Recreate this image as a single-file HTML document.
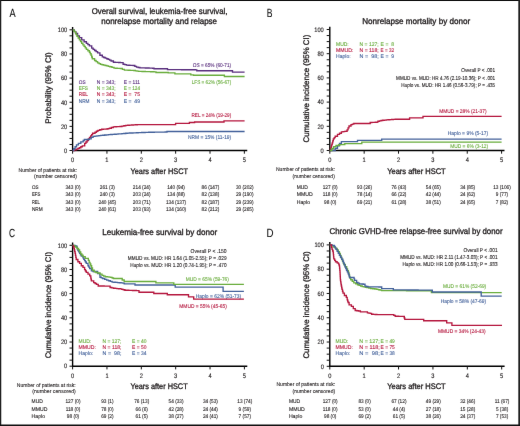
<!DOCTYPE html>
<html><head><meta charset="utf-8"><style>
html,body{margin:0;padding:0;background:#fff;}
svg{display:block;will-change:transform;}
text{font-family:"Liberation Sans",sans-serif;text-rendering:geometricPrecision;}
</style></head><body>
<svg width="520" height="426" viewBox="0 0 520 426">
<defs><filter id="bl" x="0" y="0" width="520" height="426" filterUnits="userSpaceOnUse" color-interpolation-filters="sRGB"><feConvolveMatrix order="3" kernelMatrix="0.0016 0.0371 0.0016 0.0371 0.8450 0.0371 0.0016 0.0371 0.0016" divisor="1" edgeMode="duplicate" preserveAlpha="false"/></filter></defs>
<g filter="url(#bl)">
<rect width="520" height="426" fill="#fff"/>
<text x="9.43" y="16.60" font-size="11.8" fill="#111" stroke="#111" stroke-width="0.10" text-anchor="start" textLength="6.14" lengthAdjust="spacingAndGlyphs">A</text>
<text x="91.76" y="13.80" font-size="8.4" fill="#231f20" stroke="#231f20" stroke-width="0.34" text-anchor="start" textLength="135.67" lengthAdjust="spacingAndGlyphs">Overall survival, leukemia-free survival,</text>
<text x="101.26" y="23.70" font-size="8.4" fill="#231f20" stroke="#231f20" stroke-width="0.34" text-anchor="start" textLength="115.77" lengthAdjust="spacingAndGlyphs">nonrelapse mortality and relapse</text>
<line x1="72.60" y1="27.00" x2="72.60" y2="151.10" stroke="#000" stroke-width="1.4"/>
<line x1="72.00" y1="150.50" x2="247.25" y2="150.50" stroke="#000" stroke-width="1.45"/>
<line x1="69.50" y1="150.50" x2="72.60" y2="150.50" stroke="#111" stroke-width="1.0"/>
<line x1="69.50" y1="144.47" x2="72.60" y2="144.47" stroke="#111" stroke-width="1.0"/>
<line x1="69.50" y1="138.43" x2="72.60" y2="138.43" stroke="#111" stroke-width="1.0"/>
<line x1="69.50" y1="132.40" x2="72.60" y2="132.40" stroke="#111" stroke-width="1.0"/>
<line x1="69.50" y1="126.36" x2="72.60" y2="126.36" stroke="#111" stroke-width="1.0"/>
<line x1="69.50" y1="120.33" x2="72.60" y2="120.33" stroke="#111" stroke-width="1.0"/>
<line x1="69.50" y1="114.29" x2="72.60" y2="114.29" stroke="#111" stroke-width="1.0"/>
<line x1="69.50" y1="108.25" x2="72.60" y2="108.25" stroke="#111" stroke-width="1.0"/>
<line x1="69.50" y1="102.22" x2="72.60" y2="102.22" stroke="#111" stroke-width="1.0"/>
<line x1="69.50" y1="96.19" x2="72.60" y2="96.19" stroke="#111" stroke-width="1.0"/>
<line x1="69.50" y1="90.15" x2="72.60" y2="90.15" stroke="#111" stroke-width="1.0"/>
<line x1="69.50" y1="84.11" x2="72.60" y2="84.11" stroke="#111" stroke-width="1.0"/>
<line x1="69.50" y1="78.08" x2="72.60" y2="78.08" stroke="#111" stroke-width="1.0"/>
<line x1="69.50" y1="72.05" x2="72.60" y2="72.05" stroke="#111" stroke-width="1.0"/>
<line x1="69.50" y1="66.01" x2="72.60" y2="66.01" stroke="#111" stroke-width="1.0"/>
<line x1="69.50" y1="59.97" x2="72.60" y2="59.97" stroke="#111" stroke-width="1.0"/>
<line x1="69.50" y1="53.94" x2="72.60" y2="53.94" stroke="#111" stroke-width="1.0"/>
<line x1="69.50" y1="47.90" x2="72.60" y2="47.90" stroke="#111" stroke-width="1.0"/>
<line x1="69.50" y1="41.87" x2="72.60" y2="41.87" stroke="#111" stroke-width="1.0"/>
<line x1="69.50" y1="35.83" x2="72.60" y2="35.83" stroke="#111" stroke-width="1.0"/>
<line x1="69.50" y1="29.80" x2="72.60" y2="29.80" stroke="#111" stroke-width="1.0"/>
<text x="67.26" y="152.79" font-size="6.4" fill="#231f20" stroke="#231f20" stroke-width="0.13" text-anchor="end" textLength="3.17" lengthAdjust="spacingAndGlyphs">0</text>
<text x="67.26" y="128.65" font-size="6.4" fill="#231f20" stroke="#231f20" stroke-width="0.13" text-anchor="end" textLength="6.34" lengthAdjust="spacingAndGlyphs">20</text>
<text x="67.26" y="104.51" font-size="6.4" fill="#231f20" stroke="#231f20" stroke-width="0.13" text-anchor="end" textLength="6.34" lengthAdjust="spacingAndGlyphs">40</text>
<text x="67.26" y="80.37" font-size="6.4" fill="#231f20" stroke="#231f20" stroke-width="0.13" text-anchor="end" textLength="6.34" lengthAdjust="spacingAndGlyphs">60</text>
<text x="67.26" y="56.23" font-size="6.4" fill="#231f20" stroke="#231f20" stroke-width="0.13" text-anchor="end" textLength="6.34" lengthAdjust="spacingAndGlyphs">80</text>
<text x="67.26" y="32.09" font-size="6.4" fill="#231f20" stroke="#231f20" stroke-width="0.13" text-anchor="end" textLength="9.50" lengthAdjust="spacingAndGlyphs">100</text>
<line x1="72.60" y1="150.50" x2="72.60" y2="153.70" stroke="#111" stroke-width="1.0"/>
<text x="72.60" y="162.29" font-size="6.4" fill="#231f20" stroke="#231f20" stroke-width="0.13" text-anchor="middle" textLength="3.17" lengthAdjust="spacingAndGlyphs">0</text>
<line x1="106.95" y1="150.50" x2="106.95" y2="153.70" stroke="#111" stroke-width="1.0"/>
<text x="106.95" y="162.29" font-size="6.4" fill="#231f20" stroke="#231f20" stroke-width="0.13" text-anchor="middle" textLength="3.17" lengthAdjust="spacingAndGlyphs">1</text>
<line x1="141.30" y1="150.50" x2="141.30" y2="153.70" stroke="#111" stroke-width="1.0"/>
<text x="141.30" y="162.29" font-size="6.4" fill="#231f20" stroke="#231f20" stroke-width="0.13" text-anchor="middle" textLength="3.17" lengthAdjust="spacingAndGlyphs">2</text>
<line x1="175.65" y1="150.50" x2="175.65" y2="153.70" stroke="#111" stroke-width="1.0"/>
<text x="175.65" y="162.29" font-size="6.4" fill="#231f20" stroke="#231f20" stroke-width="0.13" text-anchor="middle" textLength="3.17" lengthAdjust="spacingAndGlyphs">3</text>
<line x1="210.00" y1="150.50" x2="210.00" y2="153.70" stroke="#111" stroke-width="1.0"/>
<text x="210.00" y="162.29" font-size="6.4" fill="#231f20" stroke="#231f20" stroke-width="0.13" text-anchor="middle" textLength="3.17" lengthAdjust="spacingAndGlyphs">4</text>
<line x1="244.35" y1="150.50" x2="244.35" y2="153.70" stroke="#111" stroke-width="1.0"/>
<text x="244.35" y="162.29" font-size="6.4" fill="#231f20" stroke="#231f20" stroke-width="0.13" text-anchor="middle" textLength="3.17" lengthAdjust="spacingAndGlyphs">5</text>
<text transform="translate(51.20,88.10) rotate(-90)" x="0" y="0" font-size="8.1" fill="#231f20" stroke="#231f20" stroke-width="0.32" text-anchor="middle" textLength="71.45" lengthAdjust="spacingAndGlyphs">Probability (95% CI)</text>
<text x="130.48" y="173.80" font-size="8.1" fill="#231f20" stroke="#231f20" stroke-width="0.32" text-anchor="start" textLength="57.55" lengthAdjust="spacingAndGlyphs">Years after HSCT</text>
<text x="78.79" y="83.50" font-size="5.3" fill="#5a2f7e" stroke="#5a2f7e" stroke-width="0.11" text-anchor="start" textLength="6.82" lengthAdjust="spacingAndGlyphs">OS</text>
<text x="96.69" y="83.50" font-size="5.3" fill="#5a2f7e" stroke="#5a2f7e" stroke-width="0.11" text-anchor="start" textLength="19.02" lengthAdjust="spacingAndGlyphs">N = 343;</text>
<text x="123.79" y="83.50" font-size="5.3" fill="#5a2f7e" stroke="#5a2f7e" stroke-width="0.11" text-anchor="start" textLength="16.22" lengthAdjust="spacingAndGlyphs" xml:space="preserve">E = 111</text>
<text x="78.79" y="89.70" font-size="5.3" fill="#6aad3d" stroke="#6aad3d" stroke-width="0.11" text-anchor="start" textLength="9.17" lengthAdjust="spacingAndGlyphs">EFS</text>
<text x="96.69" y="89.70" font-size="5.3" fill="#6aad3d" stroke="#6aad3d" stroke-width="0.11" text-anchor="start" textLength="19.02" lengthAdjust="spacingAndGlyphs">N = 343;</text>
<text x="123.79" y="89.70" font-size="5.3" fill="#6aad3d" stroke="#6aad3d" stroke-width="0.11" text-anchor="start" textLength="16.22" lengthAdjust="spacingAndGlyphs" xml:space="preserve">E = 124</text>
<text x="78.79" y="96.30" font-size="5.3" fill="#b5173e" stroke="#b5173e" stroke-width="0.11" text-anchor="start" textLength="9.18" lengthAdjust="spacingAndGlyphs">REL</text>
<text x="96.69" y="96.30" font-size="5.3" fill="#b5173e" stroke="#b5173e" stroke-width="0.11" text-anchor="start" textLength="19.02" lengthAdjust="spacingAndGlyphs">N = 343;</text>
<text x="123.79" y="96.30" font-size="5.3" fill="#b5173e" stroke="#b5173e" stroke-width="0.11" text-anchor="start" textLength="16.22" lengthAdjust="spacingAndGlyphs" xml:space="preserve">E =  75</text>
<text x="78.79" y="102.60" font-size="5.3" fill="#44629b" stroke="#44629b" stroke-width="0.11" text-anchor="start" textLength="10.74" lengthAdjust="spacingAndGlyphs">NRM</text>
<text x="96.69" y="102.60" font-size="5.3" fill="#44629b" stroke="#44629b" stroke-width="0.11" text-anchor="start" textLength="19.02" lengthAdjust="spacingAndGlyphs">N = 343;</text>
<text x="123.79" y="102.60" font-size="5.3" fill="#44629b" stroke="#44629b" stroke-width="0.11" text-anchor="start" textLength="16.22" lengthAdjust="spacingAndGlyphs" xml:space="preserve">E =  49</text>
<text x="192.78" y="67.37" font-size="5.5" fill="#5a2f7e" stroke="#5a2f7e" stroke-width="0.11" text-anchor="start" textLength="38.44" lengthAdjust="spacingAndGlyphs">OS = 65% (60-71)</text>
<text x="191.78" y="84.27" font-size="5.5" fill="#6aad3d" stroke="#6aad3d" stroke-width="0.11" text-anchor="start" textLength="39.44" lengthAdjust="spacingAndGlyphs">LFS = 62% (56-67)</text>
<text x="191.48" y="116.97" font-size="5.5" fill="#b5173e" stroke="#b5173e" stroke-width="0.11" text-anchor="start" textLength="39.74" lengthAdjust="spacingAndGlyphs">REL = 24% (19-29)</text>
<text x="187.98" y="139.47" font-size="5.5" fill="#44629b" stroke="#44629b" stroke-width="0.11" text-anchor="start" textLength="43.24" lengthAdjust="spacingAndGlyphs">NRM = 15% (11-19)</text>
<polyline points="72.60,29.80 74.25,29.80 74.25,31.65 75.90,31.65 75.90,33.50 77.60,33.50 77.60,35.80 79.40,35.80 79.40,37.60 81.70,37.60 81.70,39.90 84.10,39.90 84.10,41.70 86.40,41.70 86.40,43.40 87.90,43.40 87.90,44.60 89.40,44.60 89.40,45.80 91.70,45.80 91.70,48.10 93.15,48.10 93.15,49.30 94.60,49.30 94.60,50.50 96.10,50.50 96.10,51.65 97.60,51.65 97.60,52.80 99.90,52.80 99.90,55.20 102.30,55.20 102.30,56.90 103.75,56.90 103.75,57.50 105.20,57.50 105.20,58.10 106.65,58.10 106.65,58.70 108.10,58.70 108.10,59.30 109.60,59.30 109.60,60.15 111.10,60.15 111.10,61.00 113.40,61.00 113.40,62.20 115.15,62.20 115.15,62.30 116.90,62.30 116.90,62.40 118.65,62.40 118.65,62.50 120.40,62.50 120.40,62.60 123.10,62.60 123.10,64.20 124.75,64.20 124.75,64.65 126.40,64.65 126.40,65.10 128.10,65.10 128.10,65.20 129.80,65.20 129.80,65.30 131.50,65.30 131.50,65.40 133.20,65.40 133.20,65.50 134.85,65.50 134.85,66.30 136.50,66.30 136.50,67.10 138.20,67.10 138.20,67.45 139.90,67.45 139.90,67.80 141.73,67.80 141.73,67.86 143.56,67.86 143.56,67.91 145.39,67.91 145.39,67.97 147.21,67.97 147.21,68.03 149.04,68.03 149.04,68.09 150.87,68.09 150.87,68.14 152.70,68.14 152.70,68.20 154.00,68.20 154.00,68.70 166.10,68.70 167.50,68.70 167.50,69.60 169.25,69.60 169.25,69.61 171.00,69.61 171.00,69.62 172.75,69.62 172.75,69.64 174.50,69.64 174.50,69.65 176.25,69.65 176.25,69.66 178.00,69.66 178.00,69.67 179.75,69.67 179.75,69.69 181.50,69.69 181.50,69.70 183.25,69.70 183.25,69.71 185.00,69.71 185.00,69.72 186.75,69.72 186.75,69.74 188.50,69.74 188.50,69.75 190.25,69.75 190.25,69.76 192.00,69.76 192.00,69.77 193.75,69.77 193.75,69.79 195.50,69.79 195.50,69.80 196.80,69.80 196.80,70.70 231.10,70.70 232.50,70.70 232.50,72.10 244.60,72.10" fill="none" stroke="#5a2f7e" stroke-width="1.35" stroke-linejoin="miter" stroke-linecap="butt"/>
<polyline points="72.60,29.80 73.95,29.80 73.95,31.35 75.30,31.35 75.30,32.90 76.15,32.90 76.15,34.65 77.00,34.65 77.00,36.40 78.20,36.40 78.20,38.15 79.40,38.15 79.40,39.90 80.55,39.90 80.55,41.65 81.70,41.65 81.70,43.40 82.90,43.40 82.90,44.90 84.10,44.90 84.10,46.40 85.25,46.40 85.25,47.85 86.40,47.85 86.40,49.30 87.90,49.30 87.90,50.75 89.40,50.75 89.40,52.20 90.25,52.20 90.25,53.70 91.10,53.70 91.10,55.20 91.70,55.20 91.70,56.95 92.30,56.95 92.30,58.70 94.60,58.70 94.60,60.50 96.10,60.50 96.10,61.65 97.60,61.65 97.60,62.80 99.05,62.80 99.05,63.55 100.50,63.55 100.50,64.30 102.07,64.30 102.07,64.70 103.63,64.70 103.63,65.10 105.20,65.10 105.20,65.50 106.77,65.50 106.77,65.90 108.33,65.90 108.33,66.30 109.90,66.30 109.90,66.70 111.95,66.70 111.95,67.40 114.00,67.40 114.00,68.10 115.60,68.10 115.60,68.20 117.20,68.20 117.20,68.30 118.80,68.30 118.80,68.40 120.40,68.40 120.40,68.50 122.40,68.50 122.40,69.30 124.40,69.30 124.40,70.10 126.28,70.10 126.28,70.18 128.16,70.18 128.16,70.26 130.04,70.26 130.04,70.34 131.92,70.34 131.92,70.42 133.80,70.42 133.80,70.50 135.40,70.50 135.40,70.80 137.00,70.80 137.00,71.10 138.60,71.10 138.60,71.40 140.31,71.40 140.31,71.44 142.02,71.44 142.02,71.49 143.73,71.49 143.73,71.53 145.44,71.53 145.44,71.58 147.16,71.58 147.16,71.62 148.87,71.62 148.87,71.67 150.58,71.67 150.58,71.71 152.29,71.71 152.29,71.76 154.00,71.76 154.00,71.80 156.00,71.80 156.00,72.50 166.10,72.50 168.20,72.50 168.20,72.90 172.90,72.90 174.90,72.90 174.90,73.80 189.40,73.80 190.80,73.80 190.80,74.80 193.50,74.80 193.50,75.20 223.10,75.20 224.40,75.20 224.40,76.50 244.60,76.50" fill="none" stroke="#6aad3d" stroke-width="1.35" stroke-linejoin="miter" stroke-linecap="butt"/>
<polyline points="72.60,150.50 74.55,150.50 74.55,149.80 76.50,149.80 76.50,149.10 77.95,149.10 77.95,148.40 79.40,148.40 79.40,147.70 80.85,147.70 80.85,146.75 82.30,146.75 82.30,145.80 84.70,145.80 84.70,143.40 85.90,143.40 85.90,141.95 87.10,141.95 87.10,140.50 88.30,140.50 88.30,138.80 89.50,138.80 89.50,137.35 90.70,137.35 90.70,135.90 91.65,135.90 91.65,134.55 92.60,134.55 92.60,133.20 95.00,133.20 95.00,132.20 96.45,132.20 96.45,131.25 97.90,131.25 97.90,130.30 99.80,130.30 99.80,129.75 101.70,129.75 101.70,129.20 103.30,129.20 103.30,129.13 104.90,129.13 104.90,129.07 106.50,129.07 106.50,129.00 107.95,129.00 107.95,128.60 109.40,128.60 109.40,128.20 111.35,128.20 111.35,127.50 113.30,127.50 113.30,126.80 114.97,126.80 114.97,126.72 116.65,126.72 116.65,126.65 118.33,126.65 118.33,126.58 120.00,126.58 120.00,126.50 121.93,126.50 121.93,126.13 123.87,126.13 123.87,125.77 125.80,125.77 125.80,125.40 127.72,125.40 127.72,125.27 129.63,125.27 129.63,125.13 131.55,125.13 131.55,125.00 133.47,125.00 133.47,124.87 135.38,124.87 135.38,124.73 137.30,124.73 137.30,124.60 175.60,124.60 175.60,123.40 189.40,123.40 189.40,122.50 194.60,122.50 194.60,122.00 224.00,122.00 224.00,120.80 244.60,120.80" fill="none" stroke="#b5173e" stroke-width="1.35" stroke-linejoin="miter" stroke-linecap="butt"/>
<polyline points="72.60,150.50 73.60,150.50 73.60,148.70 75.10,148.70 75.10,146.70 76.50,146.70 76.50,144.80 78.40,144.80 78.40,143.40 80.80,143.40 80.80,141.90 83.20,141.90 83.20,140.50 84.40,140.50 84.40,139.50 86.80,139.50 89.20,139.50 89.20,138.80 91.20,138.80 91.20,137.30 93.10,137.30 93.10,136.40 95.02,136.40 95.02,136.15 96.95,136.15 96.95,135.90 98.88,135.90 98.88,135.65 100.80,135.65 100.80,135.40 102.72,135.40 102.72,135.20 104.65,135.20 104.65,135.00 106.58,135.00 106.58,134.80 108.50,134.80 108.50,134.60 110.42,134.60 110.42,134.47 112.33,134.47 112.33,134.33 114.25,134.33 114.25,134.20 116.17,134.20 116.17,134.07 118.08,134.07 118.08,133.93 120.00,133.93 120.00,133.80 121.92,133.80 121.92,133.62 123.85,133.62 123.85,133.45 125.78,133.45 125.78,133.28 127.70,133.28 127.70,133.10 129.45,133.10 129.45,133.03 131.19,133.03 131.19,132.95 132.94,132.95 132.94,132.88 134.68,132.88 134.68,132.81 136.43,132.81 136.43,132.74 138.17,132.74 138.17,132.66 139.92,132.66 139.92,132.59 141.66,132.59 141.66,132.52 143.41,132.52 143.41,132.45 145.15,132.45 145.15,132.37 146.90,132.37 146.90,132.30 148.73,132.30 148.73,132.27 150.55,132.27 150.55,132.25 152.38,132.25 152.38,132.22 154.21,132.22 154.21,132.19 156.04,132.19 156.04,132.16 157.86,132.16 157.86,132.14 159.69,132.14 159.69,132.11 161.52,132.11 161.52,132.08 163.35,132.08 163.35,132.05 165.17,132.05 165.17,132.03 167.00,132.03 167.00,132.00 167.00,131.50 244.60,131.50" fill="none" stroke="#44629b" stroke-width="1.35" stroke-linejoin="miter" stroke-linecap="butt"/>
<text x="77.02" y="171.67" font-size="5.5" fill="#231f20" stroke="#231f20" stroke-width="0.11" text-anchor="end" textLength="58.44" lengthAdjust="spacingAndGlyphs">Number of patients at risk:</text>
<text x="77.02" y="177.97" font-size="5.5" fill="#231f20" stroke="#231f20" stroke-width="0.11" text-anchor="end" textLength="42.94" lengthAdjust="spacingAndGlyphs">(number censored)</text>
<text x="31.89" y="189.10" font-size="5.3" fill="#231f20" stroke="#231f20" stroke-width="0.11" text-anchor="start" textLength="6.52" lengthAdjust="spacingAndGlyphs">OS</text>
<text x="73.00" y="189.10" font-size="5.3" fill="#231f20" stroke="#231f20" stroke-width="0.11" text-anchor="middle" textLength="15.03" lengthAdjust="spacingAndGlyphs">343 (0)</text>
<text x="107.35" y="189.10" font-size="5.3" fill="#231f20" stroke="#231f20" stroke-width="0.11" text-anchor="middle" textLength="15.03" lengthAdjust="spacingAndGlyphs">261 (3)</text>
<text x="141.70" y="189.10" font-size="5.3" fill="#231f20" stroke="#231f20" stroke-width="0.11" text-anchor="middle" textLength="17.67" lengthAdjust="spacingAndGlyphs">214 (24)</text>
<text x="176.05" y="189.10" font-size="5.3" fill="#231f20" stroke="#231f20" stroke-width="0.11" text-anchor="middle" textLength="17.67" lengthAdjust="spacingAndGlyphs">140 (94)</text>
<text x="210.40" y="189.10" font-size="5.3" fill="#231f20" stroke="#231f20" stroke-width="0.11" text-anchor="middle" textLength="17.67" lengthAdjust="spacingAndGlyphs">86 (147)</text>
<text x="244.75" y="189.10" font-size="5.3" fill="#231f20" stroke="#231f20" stroke-width="0.11" text-anchor="middle" textLength="17.67" lengthAdjust="spacingAndGlyphs">30 (202)</text>
<text x="31.89" y="196.30" font-size="5.3" fill="#231f20" stroke="#231f20" stroke-width="0.11" text-anchor="start" textLength="8.42" lengthAdjust="spacingAndGlyphs">EFS</text>
<text x="73.00" y="196.30" font-size="5.3" fill="#231f20" stroke="#231f20" stroke-width="0.11" text-anchor="middle" textLength="15.03" lengthAdjust="spacingAndGlyphs">343 (0)</text>
<text x="107.35" y="196.30" font-size="5.3" fill="#231f20" stroke="#231f20" stroke-width="0.11" text-anchor="middle" textLength="15.03" lengthAdjust="spacingAndGlyphs">240 (3)</text>
<text x="141.70" y="196.30" font-size="5.3" fill="#231f20" stroke="#231f20" stroke-width="0.11" text-anchor="middle" textLength="17.67" lengthAdjust="spacingAndGlyphs">203 (24)</text>
<text x="176.05" y="196.30" font-size="5.3" fill="#231f20" stroke="#231f20" stroke-width="0.11" text-anchor="middle" textLength="17.67" lengthAdjust="spacingAndGlyphs">134 (88)</text>
<text x="210.40" y="196.30" font-size="5.3" fill="#231f20" stroke="#231f20" stroke-width="0.11" text-anchor="middle" textLength="17.67" lengthAdjust="spacingAndGlyphs">82 (138)</text>
<text x="244.75" y="196.30" font-size="5.3" fill="#231f20" stroke="#231f20" stroke-width="0.11" text-anchor="middle" textLength="17.67" lengthAdjust="spacingAndGlyphs">29 (190)</text>
<text x="31.89" y="203.50" font-size="5.3" fill="#231f20" stroke="#231f20" stroke-width="0.11" text-anchor="start" textLength="8.02" lengthAdjust="spacingAndGlyphs">REL</text>
<text x="73.00" y="203.50" font-size="5.3" fill="#231f20" stroke="#231f20" stroke-width="0.11" text-anchor="middle" textLength="15.03" lengthAdjust="spacingAndGlyphs">343 (0)</text>
<text x="107.35" y="203.50" font-size="5.3" fill="#231f20" stroke="#231f20" stroke-width="0.11" text-anchor="middle" textLength="17.67" lengthAdjust="spacingAndGlyphs">240 (45)</text>
<text x="141.70" y="203.50" font-size="5.3" fill="#231f20" stroke="#231f20" stroke-width="0.11" text-anchor="middle" textLength="17.67" lengthAdjust="spacingAndGlyphs">203 (71)</text>
<text x="176.05" y="203.50" font-size="5.3" fill="#231f20" stroke="#231f20" stroke-width="0.11" text-anchor="middle" textLength="20.30" lengthAdjust="spacingAndGlyphs">134 (137)</text>
<text x="210.40" y="203.50" font-size="5.3" fill="#231f20" stroke="#231f20" stroke-width="0.11" text-anchor="middle" textLength="17.67" lengthAdjust="spacingAndGlyphs">82 (187)</text>
<text x="244.75" y="203.50" font-size="5.3" fill="#231f20" stroke="#231f20" stroke-width="0.11" text-anchor="middle" textLength="17.67" lengthAdjust="spacingAndGlyphs">29 (239)</text>
<text x="31.89" y="210.60" font-size="5.3" fill="#231f20" stroke="#231f20" stroke-width="0.11" text-anchor="start" textLength="10.82" lengthAdjust="spacingAndGlyphs">NRM</text>
<text x="73.00" y="210.60" font-size="5.3" fill="#231f20" stroke="#231f20" stroke-width="0.11" text-anchor="middle" textLength="15.03" lengthAdjust="spacingAndGlyphs">343 (0)</text>
<text x="107.35" y="210.60" font-size="5.3" fill="#231f20" stroke="#231f20" stroke-width="0.11" text-anchor="middle" textLength="17.67" lengthAdjust="spacingAndGlyphs">240 (61)</text>
<text x="141.70" y="210.60" font-size="5.3" fill="#231f20" stroke="#231f20" stroke-width="0.11" text-anchor="middle" textLength="17.67" lengthAdjust="spacingAndGlyphs">203 (93)</text>
<text x="176.05" y="210.60" font-size="5.3" fill="#231f20" stroke="#231f20" stroke-width="0.11" text-anchor="middle" textLength="20.30" lengthAdjust="spacingAndGlyphs">134 (160)</text>
<text x="210.40" y="210.60" font-size="5.3" fill="#231f20" stroke="#231f20" stroke-width="0.11" text-anchor="middle" textLength="17.67" lengthAdjust="spacingAndGlyphs">82 (212)</text>
<text x="244.75" y="210.60" font-size="5.3" fill="#231f20" stroke="#231f20" stroke-width="0.11" text-anchor="middle" textLength="17.67" lengthAdjust="spacingAndGlyphs">29 (265)</text>
<text x="266.73" y="16.60" font-size="11.8" fill="#111" stroke="#111" stroke-width="0.10" text-anchor="start" textLength="5.74" lengthAdjust="spacingAndGlyphs">B</text>
<text x="362.26" y="24.30" font-size="8.4" fill="#231f20" stroke="#231f20" stroke-width="0.34" text-anchor="start" textLength="107.87" lengthAdjust="spacingAndGlyphs">Nonrelapse mortality by donor</text>
<line x1="329.80" y1="26.70" x2="329.80" y2="151.10" stroke="#000" stroke-width="1.4"/>
<line x1="329.20" y1="150.50" x2="504.50" y2="150.50" stroke="#000" stroke-width="1.45"/>
<line x1="326.70" y1="150.50" x2="329.80" y2="150.50" stroke="#111" stroke-width="1.0"/>
<line x1="326.70" y1="144.45" x2="329.80" y2="144.45" stroke="#111" stroke-width="1.0"/>
<line x1="326.70" y1="138.40" x2="329.80" y2="138.40" stroke="#111" stroke-width="1.0"/>
<line x1="326.70" y1="132.35" x2="329.80" y2="132.35" stroke="#111" stroke-width="1.0"/>
<line x1="326.70" y1="126.30" x2="329.80" y2="126.30" stroke="#111" stroke-width="1.0"/>
<line x1="326.70" y1="120.25" x2="329.80" y2="120.25" stroke="#111" stroke-width="1.0"/>
<line x1="326.70" y1="114.20" x2="329.80" y2="114.20" stroke="#111" stroke-width="1.0"/>
<line x1="326.70" y1="108.15" x2="329.80" y2="108.15" stroke="#111" stroke-width="1.0"/>
<line x1="326.70" y1="102.10" x2="329.80" y2="102.10" stroke="#111" stroke-width="1.0"/>
<line x1="326.70" y1="96.05" x2="329.80" y2="96.05" stroke="#111" stroke-width="1.0"/>
<line x1="326.70" y1="90.00" x2="329.80" y2="90.00" stroke="#111" stroke-width="1.0"/>
<line x1="326.70" y1="83.95" x2="329.80" y2="83.95" stroke="#111" stroke-width="1.0"/>
<line x1="326.70" y1="77.90" x2="329.80" y2="77.90" stroke="#111" stroke-width="1.0"/>
<line x1="326.70" y1="71.85" x2="329.80" y2="71.85" stroke="#111" stroke-width="1.0"/>
<line x1="326.70" y1="65.80" x2="329.80" y2="65.80" stroke="#111" stroke-width="1.0"/>
<line x1="326.70" y1="59.75" x2="329.80" y2="59.75" stroke="#111" stroke-width="1.0"/>
<line x1="326.70" y1="53.70" x2="329.80" y2="53.70" stroke="#111" stroke-width="1.0"/>
<line x1="326.70" y1="47.65" x2="329.80" y2="47.65" stroke="#111" stroke-width="1.0"/>
<line x1="326.70" y1="41.60" x2="329.80" y2="41.60" stroke="#111" stroke-width="1.0"/>
<line x1="326.70" y1="35.55" x2="329.80" y2="35.55" stroke="#111" stroke-width="1.0"/>
<line x1="326.70" y1="29.50" x2="329.80" y2="29.50" stroke="#111" stroke-width="1.0"/>
<text x="323.76" y="152.79" font-size="6.4" fill="#231f20" stroke="#231f20" stroke-width="0.13" text-anchor="end" textLength="3.17" lengthAdjust="spacingAndGlyphs">0</text>
<text x="323.76" y="128.59" font-size="6.4" fill="#231f20" stroke="#231f20" stroke-width="0.13" text-anchor="end" textLength="6.34" lengthAdjust="spacingAndGlyphs">20</text>
<text x="323.76" y="104.39" font-size="6.4" fill="#231f20" stroke="#231f20" stroke-width="0.13" text-anchor="end" textLength="6.34" lengthAdjust="spacingAndGlyphs">40</text>
<text x="323.76" y="80.19" font-size="6.4" fill="#231f20" stroke="#231f20" stroke-width="0.13" text-anchor="end" textLength="6.34" lengthAdjust="spacingAndGlyphs">60</text>
<text x="323.76" y="55.99" font-size="6.4" fill="#231f20" stroke="#231f20" stroke-width="0.13" text-anchor="end" textLength="6.34" lengthAdjust="spacingAndGlyphs">80</text>
<text x="323.76" y="31.79" font-size="6.4" fill="#231f20" stroke="#231f20" stroke-width="0.13" text-anchor="end" textLength="9.50" lengthAdjust="spacingAndGlyphs">100</text>
<line x1="329.80" y1="150.50" x2="329.80" y2="153.70" stroke="#111" stroke-width="1.0"/>
<text x="329.80" y="162.29" font-size="6.4" fill="#231f20" stroke="#231f20" stroke-width="0.13" text-anchor="middle" textLength="3.17" lengthAdjust="spacingAndGlyphs">0</text>
<line x1="364.16" y1="150.50" x2="364.16" y2="153.70" stroke="#111" stroke-width="1.0"/>
<text x="364.16" y="162.29" font-size="6.4" fill="#231f20" stroke="#231f20" stroke-width="0.13" text-anchor="middle" textLength="3.17" lengthAdjust="spacingAndGlyphs">1</text>
<line x1="398.52" y1="150.50" x2="398.52" y2="153.70" stroke="#111" stroke-width="1.0"/>
<text x="398.52" y="162.29" font-size="6.4" fill="#231f20" stroke="#231f20" stroke-width="0.13" text-anchor="middle" textLength="3.17" lengthAdjust="spacingAndGlyphs">2</text>
<line x1="432.88" y1="150.50" x2="432.88" y2="153.70" stroke="#111" stroke-width="1.0"/>
<text x="432.88" y="162.29" font-size="6.4" fill="#231f20" stroke="#231f20" stroke-width="0.13" text-anchor="middle" textLength="3.17" lengthAdjust="spacingAndGlyphs">3</text>
<line x1="467.24" y1="150.50" x2="467.24" y2="153.70" stroke="#111" stroke-width="1.0"/>
<text x="467.24" y="162.29" font-size="6.4" fill="#231f20" stroke="#231f20" stroke-width="0.13" text-anchor="middle" textLength="3.17" lengthAdjust="spacingAndGlyphs">4</text>
<line x1="501.60" y1="150.50" x2="501.60" y2="153.70" stroke="#111" stroke-width="1.0"/>
<text x="501.60" y="162.29" font-size="6.4" fill="#231f20" stroke="#231f20" stroke-width="0.13" text-anchor="middle" textLength="3.17" lengthAdjust="spacingAndGlyphs">5</text>
<text transform="translate(308.60,88.60) rotate(-90)" x="0" y="0" font-size="8.1" fill="#231f20" stroke="#231f20" stroke-width="0.32" text-anchor="middle" textLength="107.85" lengthAdjust="spacingAndGlyphs">Cumulative incidence (95% CI)</text>
<text x="387.18" y="173.50" font-size="8.1" fill="#231f20" stroke="#231f20" stroke-width="0.32" text-anchor="start" textLength="58.55" lengthAdjust="spacingAndGlyphs">Years after HSCT</text>
<text x="335.99" y="46.00" font-size="5.3" fill="#6aad3d" stroke="#6aad3d" stroke-width="0.11" text-anchor="start" textLength="12.72" lengthAdjust="spacingAndGlyphs">MUD:</text>
<text x="359.49" y="46.00" font-size="5.3" fill="#6aad3d" stroke="#6aad3d" stroke-width="0.11" text-anchor="start" textLength="19.22" lengthAdjust="spacingAndGlyphs" xml:space="preserve">N = 127;</text>
<text x="380.59" y="46.00" font-size="5.3" fill="#6aad3d" stroke="#6aad3d" stroke-width="0.11" text-anchor="start" textLength="13.42" lengthAdjust="spacingAndGlyphs" xml:space="preserve">E =  8</text>
<text x="335.99" y="52.20" font-size="5.3" fill="#b5173e" stroke="#b5173e" stroke-width="0.11" text-anchor="start" textLength="17.32" lengthAdjust="spacingAndGlyphs">MMUD:</text>
<text x="359.49" y="52.20" font-size="5.3" fill="#b5173e" stroke="#b5173e" stroke-width="0.11" text-anchor="start" textLength="19.22" lengthAdjust="spacingAndGlyphs" xml:space="preserve">N = 118;</text>
<text x="380.59" y="52.20" font-size="5.3" fill="#b5173e" stroke="#b5173e" stroke-width="0.11" text-anchor="start" textLength="13.42" lengthAdjust="spacingAndGlyphs" xml:space="preserve">E = 32</text>
<text x="335.99" y="58.00" font-size="5.3" fill="#44629b" stroke="#44629b" stroke-width="0.11" text-anchor="start" textLength="14.62" lengthAdjust="spacingAndGlyphs">Haplo:</text>
<text x="359.49" y="58.00" font-size="5.3" fill="#44629b" stroke="#44629b" stroke-width="0.11" text-anchor="start" textLength="19.22" lengthAdjust="spacingAndGlyphs" xml:space="preserve">N =  98;</text>
<text x="380.59" y="58.00" font-size="5.3" fill="#44629b" stroke="#44629b" stroke-width="0.11" text-anchor="start" textLength="13.42" lengthAdjust="spacingAndGlyphs" xml:space="preserve">E =  9</text>
<text x="495.12" y="71.90" font-size="5.6" fill="#231f20" stroke="#231f20" stroke-width="0.11" text-anchor="end" textLength="33.85" lengthAdjust="spacingAndGlyphs">Overall P &lt; .001</text>
<text x="495.12" y="79.60" font-size="5.6" fill="#231f20" stroke="#231f20" stroke-width="0.11" text-anchor="end" textLength="99.05" lengthAdjust="spacingAndGlyphs">MMUD vs. MUD: HR 4.76 (2.19-10.36); P &lt; .001</text>
<text x="495.12" y="87.40" font-size="5.6" fill="#231f20" stroke="#231f20" stroke-width="0.11" text-anchor="end" textLength="93.85" lengthAdjust="spacingAndGlyphs">Haplo vs. MUD: HR 1.46 (0.56-3.79); P = .435</text>
<text x="439.18" y="112.57" font-size="5.5" fill="#b5173e" stroke="#b5173e" stroke-width="0.11" text-anchor="start" textLength="47.44" lengthAdjust="spacingAndGlyphs">MMUD = 28% (21-37)</text>
<text x="447.78" y="134.97" font-size="5.5" fill="#44629b" stroke="#44629b" stroke-width="0.11" text-anchor="start" textLength="40.44" lengthAdjust="spacingAndGlyphs">Haplo = 9% (5-17)</text>
<text x="450.18" y="148.17" font-size="5.5" fill="#6aad3d" stroke="#6aad3d" stroke-width="0.11" text-anchor="start" textLength="38.04" lengthAdjust="spacingAndGlyphs">MUD = 6% (3-12)</text>
<polyline points="329.80,150.50 330.40,150.50 330.40,148.95 331.00,148.95 331.00,147.40 331.40,147.40 331.40,145.87 331.80,145.87 331.80,144.33 332.20,144.33 332.20,142.80 332.75,142.80 332.75,140.85 333.30,140.85 333.30,138.90 334.25,138.90 334.25,137.55 335.20,137.55 335.20,136.20 337.50,136.20 337.50,134.30 339.50,134.30 339.50,133.20 341.40,133.20 341.40,131.90 343.00,131.90 343.00,131.67 344.60,131.67 344.60,131.43 346.20,131.43 346.20,131.20 347.10,131.20 347.10,129.80 348.05,129.80 348.05,127.90 349.00,127.90 349.00,126.00 351.00,126.00 351.00,124.60 352.40,124.60 352.40,124.05 353.80,124.05 353.80,123.50 369.20,123.50 370.20,123.50 370.20,122.50 371.90,122.50 371.90,122.40 373.60,122.40 373.60,122.30 375.30,122.30 375.30,122.20 377.00,122.20 377.00,122.10 377.90,122.10 377.90,121.20 379.50,121.20 379.50,120.87 381.10,120.87 381.10,120.53 382.70,120.53 382.70,120.20 384.49,120.20 384.49,120.06 386.27,120.06 386.27,119.91 388.06,119.91 388.06,119.77 389.84,119.77 389.84,119.63 391.63,119.63 391.63,119.49 393.41,119.49 393.41,119.34 395.20,119.34 395.20,119.20 409.60,119.20 409.60,117.90 423.00,117.90 423.00,116.40 501.60,116.40" fill="none" stroke="#b5173e" stroke-width="1.35" stroke-linejoin="miter" stroke-linecap="butt"/>
<polyline points="329.80,150.50 333.70,150.50 335.20,150.50 335.20,148.20 337.50,148.20 337.50,145.80 339.50,145.80 339.50,143.50 341.40,143.50 341.40,141.60 356.80,141.60 357.50,141.60 357.50,140.30 380.80,140.30 381.70,140.30 381.70,139.10 501.60,139.10" fill="none" stroke="#44629b" stroke-width="1.35" stroke-linejoin="miter" stroke-linecap="butt"/>
<polyline points="329.80,150.50 331.80,150.50 331.80,148.50 333.70,148.50 333.70,146.60 336.00,146.60 336.00,145.50 338.70,145.50 338.70,144.70 340.37,144.70 340.37,144.63 342.03,144.63 342.03,144.57 343.70,144.57 343.70,144.50 344.80,144.50 344.80,143.60 359.80,143.60 361.80,143.60 361.80,142.10 501.60,142.10" fill="none" stroke="#6aad3d" stroke-width="1.35" stroke-linejoin="miter" stroke-linecap="butt"/>
<text x="334.82" y="171.47" font-size="5.5" fill="#231f20" stroke="#231f20" stroke-width="0.11" text-anchor="end" textLength="58.84" lengthAdjust="spacingAndGlyphs">Number of patients at risk:</text>
<text x="334.82" y="177.77" font-size="5.5" fill="#231f20" stroke="#231f20" stroke-width="0.11" text-anchor="end" textLength="42.24" lengthAdjust="spacingAndGlyphs">(number censored)</text>
<text x="296.69" y="188.90" font-size="5.3" fill="#231f20" stroke="#231f20" stroke-width="0.11" text-anchor="start" textLength="11.12" lengthAdjust="spacingAndGlyphs">MUD</text>
<text x="330.20" y="188.90" font-size="5.3" fill="#231f20" stroke="#231f20" stroke-width="0.11" text-anchor="middle" textLength="15.03" lengthAdjust="spacingAndGlyphs">127 (0)</text>
<text x="364.56" y="188.90" font-size="5.3" fill="#231f20" stroke="#231f20" stroke-width="0.11" text-anchor="middle" textLength="15.03" lengthAdjust="spacingAndGlyphs">93 (26)</text>
<text x="398.92" y="188.90" font-size="5.3" fill="#231f20" stroke="#231f20" stroke-width="0.11" text-anchor="middle" textLength="15.03" lengthAdjust="spacingAndGlyphs">76 (43)</text>
<text x="433.28" y="188.90" font-size="5.3" fill="#231f20" stroke="#231f20" stroke-width="0.11" text-anchor="middle" textLength="15.03" lengthAdjust="spacingAndGlyphs">54 (65)</text>
<text x="467.64" y="188.90" font-size="5.3" fill="#231f20" stroke="#231f20" stroke-width="0.11" text-anchor="middle" textLength="15.03" lengthAdjust="spacingAndGlyphs">34 (85)</text>
<text x="502.00" y="188.90" font-size="5.3" fill="#231f20" stroke="#231f20" stroke-width="0.11" text-anchor="middle" textLength="17.67" lengthAdjust="spacingAndGlyphs">13 (106)</text>
<text x="296.69" y="196.20" font-size="5.3" fill="#231f20" stroke="#231f20" stroke-width="0.11" text-anchor="start" textLength="15.92" lengthAdjust="spacingAndGlyphs">MMUD</text>
<text x="330.20" y="196.20" font-size="5.3" fill="#231f20" stroke="#231f20" stroke-width="0.11" text-anchor="middle" textLength="14.68" lengthAdjust="spacingAndGlyphs">118 (0)</text>
<text x="364.56" y="196.20" font-size="5.3" fill="#231f20" stroke="#231f20" stroke-width="0.11" text-anchor="middle" textLength="15.03" lengthAdjust="spacingAndGlyphs">78 (14)</text>
<text x="398.92" y="196.20" font-size="5.3" fill="#231f20" stroke="#231f20" stroke-width="0.11" text-anchor="middle" textLength="15.03" lengthAdjust="spacingAndGlyphs">66 (22)</text>
<text x="433.28" y="196.20" font-size="5.3" fill="#231f20" stroke="#231f20" stroke-width="0.11" text-anchor="middle" textLength="15.03" lengthAdjust="spacingAndGlyphs">42 (44)</text>
<text x="467.64" y="196.20" font-size="5.3" fill="#231f20" stroke="#231f20" stroke-width="0.11" text-anchor="middle" textLength="15.03" lengthAdjust="spacingAndGlyphs">24 (62)</text>
<text x="502.00" y="196.20" font-size="5.3" fill="#231f20" stroke="#231f20" stroke-width="0.11" text-anchor="middle" textLength="12.39" lengthAdjust="spacingAndGlyphs">9 (77)</text>
<text x="296.69" y="203.70" font-size="5.3" fill="#231f20" stroke="#231f20" stroke-width="0.11" text-anchor="start" textLength="13.42" lengthAdjust="spacingAndGlyphs">Haplo</text>
<text x="330.20" y="203.70" font-size="5.3" fill="#231f20" stroke="#231f20" stroke-width="0.11" text-anchor="middle" textLength="12.39" lengthAdjust="spacingAndGlyphs">98 (0)</text>
<text x="364.56" y="203.70" font-size="5.3" fill="#231f20" stroke="#231f20" stroke-width="0.11" text-anchor="middle" textLength="15.03" lengthAdjust="spacingAndGlyphs">69 (21)</text>
<text x="398.92" y="203.70" font-size="5.3" fill="#231f20" stroke="#231f20" stroke-width="0.11" text-anchor="middle" textLength="15.03" lengthAdjust="spacingAndGlyphs">61 (28)</text>
<text x="433.28" y="203.70" font-size="5.3" fill="#231f20" stroke="#231f20" stroke-width="0.11" text-anchor="middle" textLength="15.03" lengthAdjust="spacingAndGlyphs">38 (51)</text>
<text x="467.64" y="203.70" font-size="5.3" fill="#231f20" stroke="#231f20" stroke-width="0.11" text-anchor="middle" textLength="15.03" lengthAdjust="spacingAndGlyphs">24 (65)</text>
<text x="502.00" y="203.70" font-size="5.3" fill="#231f20" stroke="#231f20" stroke-width="0.11" text-anchor="middle" textLength="12.39" lengthAdjust="spacingAndGlyphs">7 (82)</text>
<text x="9.03" y="237.30" font-size="11.8" fill="#111" stroke="#111" stroke-width="0.10" text-anchor="start" textLength="6.04" lengthAdjust="spacingAndGlyphs">C</text>
<text x="102.16" y="234.50" font-size="8.4" fill="#231f20" stroke="#231f20" stroke-width="0.34" text-anchor="start" textLength="114.97" lengthAdjust="spacingAndGlyphs">Leukemia-free survival by donor</text>
<line x1="72.60" y1="242.50" x2="72.60" y2="366.80" stroke="#000" stroke-width="1.4"/>
<line x1="72.00" y1="366.20" x2="247.30" y2="366.20" stroke="#000" stroke-width="1.45"/>
<line x1="69.50" y1="366.20" x2="72.60" y2="366.20" stroke="#111" stroke-width="1.0"/>
<line x1="69.50" y1="360.15" x2="72.60" y2="360.15" stroke="#111" stroke-width="1.0"/>
<line x1="69.50" y1="354.11" x2="72.60" y2="354.11" stroke="#111" stroke-width="1.0"/>
<line x1="69.50" y1="348.06" x2="72.60" y2="348.06" stroke="#111" stroke-width="1.0"/>
<line x1="69.50" y1="342.02" x2="72.60" y2="342.02" stroke="#111" stroke-width="1.0"/>
<line x1="69.50" y1="335.97" x2="72.60" y2="335.97" stroke="#111" stroke-width="1.0"/>
<line x1="69.50" y1="329.93" x2="72.60" y2="329.93" stroke="#111" stroke-width="1.0"/>
<line x1="69.50" y1="323.88" x2="72.60" y2="323.88" stroke="#111" stroke-width="1.0"/>
<line x1="69.50" y1="317.84" x2="72.60" y2="317.84" stroke="#111" stroke-width="1.0"/>
<line x1="69.50" y1="311.80" x2="72.60" y2="311.80" stroke="#111" stroke-width="1.0"/>
<line x1="69.50" y1="305.75" x2="72.60" y2="305.75" stroke="#111" stroke-width="1.0"/>
<line x1="69.50" y1="299.70" x2="72.60" y2="299.70" stroke="#111" stroke-width="1.0"/>
<line x1="69.50" y1="293.66" x2="72.60" y2="293.66" stroke="#111" stroke-width="1.0"/>
<line x1="69.50" y1="287.62" x2="72.60" y2="287.62" stroke="#111" stroke-width="1.0"/>
<line x1="69.50" y1="281.57" x2="72.60" y2="281.57" stroke="#111" stroke-width="1.0"/>
<line x1="69.50" y1="275.52" x2="72.60" y2="275.52" stroke="#111" stroke-width="1.0"/>
<line x1="69.50" y1="269.48" x2="72.60" y2="269.48" stroke="#111" stroke-width="1.0"/>
<line x1="69.50" y1="263.44" x2="72.60" y2="263.44" stroke="#111" stroke-width="1.0"/>
<line x1="69.50" y1="257.39" x2="72.60" y2="257.39" stroke="#111" stroke-width="1.0"/>
<line x1="69.50" y1="251.34" x2="72.60" y2="251.34" stroke="#111" stroke-width="1.0"/>
<line x1="69.50" y1="245.30" x2="72.60" y2="245.30" stroke="#111" stroke-width="1.0"/>
<text x="67.26" y="368.49" font-size="6.4" fill="#231f20" stroke="#231f20" stroke-width="0.13" text-anchor="end" textLength="3.17" lengthAdjust="spacingAndGlyphs">0</text>
<text x="67.26" y="344.31" font-size="6.4" fill="#231f20" stroke="#231f20" stroke-width="0.13" text-anchor="end" textLength="6.34" lengthAdjust="spacingAndGlyphs">20</text>
<text x="67.26" y="320.13" font-size="6.4" fill="#231f20" stroke="#231f20" stroke-width="0.13" text-anchor="end" textLength="6.34" lengthAdjust="spacingAndGlyphs">40</text>
<text x="67.26" y="295.95" font-size="6.4" fill="#231f20" stroke="#231f20" stroke-width="0.13" text-anchor="end" textLength="6.34" lengthAdjust="spacingAndGlyphs">60</text>
<text x="67.26" y="271.77" font-size="6.4" fill="#231f20" stroke="#231f20" stroke-width="0.13" text-anchor="end" textLength="6.34" lengthAdjust="spacingAndGlyphs">80</text>
<text x="67.26" y="247.59" font-size="6.4" fill="#231f20" stroke="#231f20" stroke-width="0.13" text-anchor="end" textLength="9.50" lengthAdjust="spacingAndGlyphs">100</text>
<line x1="72.60" y1="366.20" x2="72.60" y2="369.40" stroke="#111" stroke-width="1.0"/>
<text x="72.60" y="377.89" font-size="6.4" fill="#231f20" stroke="#231f20" stroke-width="0.13" text-anchor="middle" textLength="3.17" lengthAdjust="spacingAndGlyphs">0</text>
<line x1="106.96" y1="366.20" x2="106.96" y2="369.40" stroke="#111" stroke-width="1.0"/>
<text x="106.96" y="377.89" font-size="6.4" fill="#231f20" stroke="#231f20" stroke-width="0.13" text-anchor="middle" textLength="3.17" lengthAdjust="spacingAndGlyphs">1</text>
<line x1="141.32" y1="366.20" x2="141.32" y2="369.40" stroke="#111" stroke-width="1.0"/>
<text x="141.32" y="377.89" font-size="6.4" fill="#231f20" stroke="#231f20" stroke-width="0.13" text-anchor="middle" textLength="3.17" lengthAdjust="spacingAndGlyphs">2</text>
<line x1="175.68" y1="366.20" x2="175.68" y2="369.40" stroke="#111" stroke-width="1.0"/>
<text x="175.68" y="377.89" font-size="6.4" fill="#231f20" stroke="#231f20" stroke-width="0.13" text-anchor="middle" textLength="3.17" lengthAdjust="spacingAndGlyphs">3</text>
<line x1="210.04" y1="366.20" x2="210.04" y2="369.40" stroke="#111" stroke-width="1.0"/>
<text x="210.04" y="377.89" font-size="6.4" fill="#231f20" stroke="#231f20" stroke-width="0.13" text-anchor="middle" textLength="3.17" lengthAdjust="spacingAndGlyphs">4</text>
<line x1="244.40" y1="366.20" x2="244.40" y2="369.40" stroke="#111" stroke-width="1.0"/>
<text x="244.40" y="377.89" font-size="6.4" fill="#231f20" stroke="#231f20" stroke-width="0.13" text-anchor="middle" textLength="3.17" lengthAdjust="spacingAndGlyphs">5</text>
<text transform="translate(51.20,305.10) rotate(-90)" x="0" y="0" font-size="8.1" fill="#231f20" stroke="#231f20" stroke-width="0.32" text-anchor="middle" textLength="106.45" lengthAdjust="spacingAndGlyphs">Cumulative incidence (95% CI)</text>
<text x="130.48" y="389.30" font-size="8.1" fill="#231f20" stroke="#231f20" stroke-width="0.32" text-anchor="start" textLength="57.15" lengthAdjust="spacingAndGlyphs">Years after HSCT</text>
<text x="78.59" y="342.70" font-size="5.3" fill="#6aad3d" stroke="#6aad3d" stroke-width="0.11" text-anchor="start" textLength="12.72" lengthAdjust="spacingAndGlyphs">MUD:</text>
<text x="102.59" y="342.70" font-size="5.3" fill="#6aad3d" stroke="#6aad3d" stroke-width="0.11" text-anchor="start" textLength="18.82" lengthAdjust="spacingAndGlyphs" xml:space="preserve">N = 127;</text>
<text x="132.09" y="342.70" font-size="5.3" fill="#6aad3d" stroke="#6aad3d" stroke-width="0.11" text-anchor="start" textLength="14.32" lengthAdjust="spacingAndGlyphs">E = 40</text>
<text x="78.59" y="348.90" font-size="5.3" fill="#b5173e" stroke="#b5173e" stroke-width="0.11" text-anchor="start" textLength="17.32" lengthAdjust="spacingAndGlyphs">MMUD:</text>
<text x="102.59" y="348.90" font-size="5.3" fill="#b5173e" stroke="#b5173e" stroke-width="0.11" text-anchor="start" textLength="18.82" lengthAdjust="spacingAndGlyphs" xml:space="preserve">N = 118;</text>
<text x="132.09" y="348.90" font-size="5.3" fill="#b5173e" stroke="#b5173e" stroke-width="0.11" text-anchor="start" textLength="14.32" lengthAdjust="spacingAndGlyphs">E = 50</text>
<text x="78.59" y="354.70" font-size="5.3" fill="#44629b" stroke="#44629b" stroke-width="0.11" text-anchor="start" textLength="14.62" lengthAdjust="spacingAndGlyphs">Haplo:</text>
<text x="102.59" y="354.70" font-size="5.3" fill="#44629b" stroke="#44629b" stroke-width="0.11" text-anchor="start" textLength="18.82" lengthAdjust="spacingAndGlyphs" xml:space="preserve">N =  98;</text>
<text x="132.09" y="354.70" font-size="5.3" fill="#44629b" stroke="#44629b" stroke-width="0.11" text-anchor="start" textLength="14.32" lengthAdjust="spacingAndGlyphs">E = 34</text>
<text x="226.52" y="252.50" font-size="5.6" fill="#231f20" stroke="#231f20" stroke-width="0.11" text-anchor="end" textLength="35.95" lengthAdjust="spacingAndGlyphs">Overall P &lt; .150</text>
<text x="226.52" y="260.00" font-size="5.6" fill="#231f20" stroke="#231f20" stroke-width="0.11" text-anchor="end" textLength="98.75" lengthAdjust="spacingAndGlyphs">MMUD vs. MUD: HR 1.64 (1.05-2.55); P = .029</text>
<text x="226.52" y="267.30" font-size="5.6" fill="#231f20" stroke="#231f20" stroke-width="0.11" text-anchor="end" textLength="96.25" lengthAdjust="spacingAndGlyphs">Haplo vs. MUD: HR 1.20 (0.74-1.95); P = .470</text>
<text x="185.78" y="281.37" font-size="5.5" fill="#6aad3d" stroke="#6aad3d" stroke-width="0.11" text-anchor="start" textLength="43.14" lengthAdjust="spacingAndGlyphs">MUD = 65% (59-76)</text>
<text x="195.78" y="297.77" font-size="5.5" fill="#44629b" stroke="#44629b" stroke-width="0.11" text-anchor="start" textLength="45.44" lengthAdjust="spacingAndGlyphs">Haplo = 62% (51-73)</text>
<text x="179.28" y="308.17" font-size="5.5" fill="#b5173e" stroke="#b5173e" stroke-width="0.11" text-anchor="start" textLength="47.54" lengthAdjust="spacingAndGlyphs">MMUD = 55% (45-65)</text>
<polyline points="72.60,245.30 75.10,245.30 75.10,246.00 76.80,246.00 76.80,247.10 77.35,247.10 77.35,248.80 77.90,248.80 77.90,250.50 78.75,250.50 78.75,251.90 79.60,251.90 79.60,253.30 80.45,253.30 80.45,254.70 81.30,254.70 81.30,256.10 83.00,256.10 83.00,257.80 83.80,257.80 83.80,259.20 84.60,259.20 84.60,260.60 85.45,260.60 85.45,262.00 86.30,262.00 86.30,263.40 88.00,263.40 88.00,265.70 88.85,265.70 88.85,267.10 89.70,267.10 89.70,268.50 91.40,268.50 91.40,270.70 93.10,270.70 93.10,271.50 95.90,271.50 97.60,271.50 97.60,273.50 99.90,273.50 99.90,275.20 100.00,275.20 100.00,277.20 101.35,277.20 101.35,277.85 102.70,277.85 102.70,278.50 104.70,278.50 104.70,279.30 106.70,279.30 106.70,280.10 108.50,280.10 108.50,280.77 110.30,280.77 110.30,281.43 112.10,281.43 112.10,282.10 113.90,282.10 113.90,282.27 115.70,282.27 115.70,282.43 117.50,282.43 117.50,282.60 119.30,282.60 119.30,282.77 121.10,282.77 121.10,282.93 122.90,282.93 122.90,283.10 124.20,283.10 124.20,283.90 133.60,283.90 135.00,283.90 135.00,285.00 175.20,285.00 175.20,287.10 223.10,287.10 223.10,291.30 243.90,291.30" fill="none" stroke="#44629b" stroke-width="1.35" stroke-linejoin="miter" stroke-linecap="butt"/>
<polyline points="72.60,245.30 74.10,245.30 74.10,246.20 75.60,246.20 75.60,247.10 77.05,247.10 77.05,248.50 78.50,248.50 78.50,249.90 79.60,249.90 79.60,251.85 80.70,251.85 80.70,253.80 81.85,253.80 81.85,255.20 83.00,255.20 83.00,256.60 85.20,256.60 85.20,258.30 87.50,258.30 88.35,258.30 88.35,260.30 89.20,260.30 89.20,262.30 90.00,262.30 90.00,264.00 90.80,264.00 90.80,265.70 91.65,265.70 91.65,267.95 92.50,267.95 92.50,270.20 94.20,270.20 94.20,271.90 95.90,271.90 95.90,272.45 97.60,272.45 97.60,273.00 100.00,273.00 100.00,274.10 102.00,274.10 102.00,275.40 103.70,275.40 103.70,276.05 105.40,276.05 105.40,276.70 107.20,276.70 107.20,276.93 109.00,276.93 109.00,277.17 110.80,277.17 110.80,277.40 112.15,277.40 112.15,277.95 113.50,277.95 113.50,278.50 120.20,278.50 122.20,278.50 122.20,280.00 124.20,280.00 124.20,281.50 153.80,281.50 155.90,281.50 155.90,282.80 173.80,282.80 173.80,284.30 243.90,284.30" fill="none" stroke="#6aad3d" stroke-width="1.35" stroke-linejoin="miter" stroke-linecap="butt"/>
<polyline points="72.60,245.30 73.25,245.30 73.25,246.75 73.90,246.75 73.90,248.20 74.30,248.20 74.30,249.90 74.70,249.90 74.70,251.60 75.10,251.60 75.10,253.30 75.47,253.30 75.47,255.37 75.83,255.37 75.83,257.43 76.20,257.43 76.20,259.50 77.90,259.50 77.90,261.70 79.60,261.70 79.60,263.40 81.30,263.40 81.30,265.70 83.00,265.70 83.00,267.40 84.60,267.40 84.60,269.60 85.45,269.60 85.45,271.00 86.30,271.00 86.30,272.40 88.00,272.40 88.00,274.10 89.70,274.10 89.70,275.80 90.80,275.80 90.80,278.10 91.10,278.10 91.10,279.50 91.40,279.50 91.40,280.90 93.70,280.90 93.70,282.60 95.10,282.60 95.10,283.45 96.50,283.45 96.50,284.30 98.20,284.30 98.20,286.00 100.18,286.00 100.18,286.02 102.16,286.02 102.16,286.04 104.14,286.04 104.14,286.06 106.12,286.06 106.12,286.08 108.10,286.08 108.10,286.10 110.10,286.10 110.10,287.50 111.80,287.50 111.80,287.85 113.50,287.85 113.50,288.20 115.17,288.20 115.17,288.38 116.85,288.38 116.85,288.55 118.53,288.55 118.53,288.72 120.20,288.72 120.20,288.90 121.77,288.90 121.77,289.33 123.33,289.33 123.33,289.77 124.90,289.77 124.90,290.20 126.80,290.20 126.80,290.27 128.70,290.27 128.70,290.33 130.60,290.33 130.60,290.40 132.50,290.40 132.50,290.47 134.40,290.47 134.40,290.53 136.30,290.53 136.30,290.60 139.00,290.60 139.00,292.20 152.50,292.20 153.80,292.20 153.80,293.50 166.00,293.50 167.30,293.50 167.30,294.70 188.50,294.70 188.50,296.80 193.70,296.80 193.70,299.10 243.90,299.10" fill="none" stroke="#b5173e" stroke-width="1.35" stroke-linejoin="miter" stroke-linecap="butt"/>
<text x="75.72" y="386.87" font-size="5.5" fill="#231f20" stroke="#231f20" stroke-width="0.11" text-anchor="end" textLength="58.94" lengthAdjust="spacingAndGlyphs">Number of patients at risk:</text>
<text x="75.72" y="393.37" font-size="5.5" fill="#231f20" stroke="#231f20" stroke-width="0.11" text-anchor="end" textLength="43.44" lengthAdjust="spacingAndGlyphs">(number censored)</text>
<text x="31.59" y="402.90" font-size="5.3" fill="#231f20" stroke="#231f20" stroke-width="0.11" text-anchor="start" textLength="11.12" lengthAdjust="spacingAndGlyphs">MUD</text>
<text x="73.00" y="402.90" font-size="5.3" fill="#231f20" stroke="#231f20" stroke-width="0.11" text-anchor="middle" textLength="15.03" lengthAdjust="spacingAndGlyphs">127 (0)</text>
<text x="107.36" y="402.90" font-size="5.3" fill="#231f20" stroke="#231f20" stroke-width="0.11" text-anchor="middle" textLength="12.39" lengthAdjust="spacingAndGlyphs">93 (1)</text>
<text x="141.72" y="402.90" font-size="5.3" fill="#231f20" stroke="#231f20" stroke-width="0.11" text-anchor="middle" textLength="15.03" lengthAdjust="spacingAndGlyphs">76 (13)</text>
<text x="176.08" y="402.90" font-size="5.3" fill="#231f20" stroke="#231f20" stroke-width="0.11" text-anchor="middle" textLength="15.03" lengthAdjust="spacingAndGlyphs">54 (33)</text>
<text x="210.44" y="402.90" font-size="5.3" fill="#231f20" stroke="#231f20" stroke-width="0.11" text-anchor="middle" textLength="15.03" lengthAdjust="spacingAndGlyphs">34 (53)</text>
<text x="244.80" y="402.90" font-size="5.3" fill="#231f20" stroke="#231f20" stroke-width="0.11" text-anchor="middle" textLength="15.03" lengthAdjust="spacingAndGlyphs">13 (74)</text>
<text x="31.59" y="410.80" font-size="5.3" fill="#231f20" stroke="#231f20" stroke-width="0.11" text-anchor="start" textLength="15.92" lengthAdjust="spacingAndGlyphs">MMUD</text>
<text x="73.00" y="410.80" font-size="5.3" fill="#231f20" stroke="#231f20" stroke-width="0.11" text-anchor="middle" textLength="14.68" lengthAdjust="spacingAndGlyphs">118 (0)</text>
<text x="107.36" y="410.80" font-size="5.3" fill="#231f20" stroke="#231f20" stroke-width="0.11" text-anchor="middle" textLength="12.39" lengthAdjust="spacingAndGlyphs">78 (0)</text>
<text x="141.72" y="410.80" font-size="5.3" fill="#231f20" stroke="#231f20" stroke-width="0.11" text-anchor="middle" textLength="12.39" lengthAdjust="spacingAndGlyphs">66 (6)</text>
<text x="176.08" y="410.80" font-size="5.3" fill="#231f20" stroke="#231f20" stroke-width="0.11" text-anchor="middle" textLength="15.03" lengthAdjust="spacingAndGlyphs">42 (28)</text>
<text x="210.44" y="410.80" font-size="5.3" fill="#231f20" stroke="#231f20" stroke-width="0.11" text-anchor="middle" textLength="15.03" lengthAdjust="spacingAndGlyphs">24 (44)</text>
<text x="244.80" y="410.80" font-size="5.3" fill="#231f20" stroke="#231f20" stroke-width="0.11" text-anchor="middle" textLength="12.39" lengthAdjust="spacingAndGlyphs">9 (59)</text>
<text x="31.59" y="418.10" font-size="5.3" fill="#231f20" stroke="#231f20" stroke-width="0.11" text-anchor="start" textLength="13.42" lengthAdjust="spacingAndGlyphs">Haplo</text>
<text x="73.00" y="418.10" font-size="5.3" fill="#231f20" stroke="#231f20" stroke-width="0.11" text-anchor="middle" textLength="12.39" lengthAdjust="spacingAndGlyphs">98 (0)</text>
<text x="107.36" y="418.10" font-size="5.3" fill="#231f20" stroke="#231f20" stroke-width="0.11" text-anchor="middle" textLength="12.39" lengthAdjust="spacingAndGlyphs">69 (2)</text>
<text x="141.72" y="418.10" font-size="5.3" fill="#231f20" stroke="#231f20" stroke-width="0.11" text-anchor="middle" textLength="12.39" lengthAdjust="spacingAndGlyphs">61 (5)</text>
<text x="176.08" y="418.10" font-size="5.3" fill="#231f20" stroke="#231f20" stroke-width="0.11" text-anchor="middle" textLength="15.03" lengthAdjust="spacingAndGlyphs">38 (27)</text>
<text x="210.44" y="418.10" font-size="5.3" fill="#231f20" stroke="#231f20" stroke-width="0.11" text-anchor="middle" textLength="15.03" lengthAdjust="spacingAndGlyphs">24 (41)</text>
<text x="244.80" y="418.10" font-size="5.3" fill="#231f20" stroke="#231f20" stroke-width="0.11" text-anchor="middle" textLength="12.39" lengthAdjust="spacingAndGlyphs">7 (57)</text>
<text x="266.53" y="237.30" font-size="11.8" fill="#111" stroke="#111" stroke-width="0.10" text-anchor="start" textLength="7.04" lengthAdjust="spacingAndGlyphs">D</text>
<text x="329.56" y="234.20" font-size="8.4" fill="#231f20" stroke="#231f20" stroke-width="0.34" text-anchor="start" textLength="172.97" lengthAdjust="spacingAndGlyphs">Chronic GVHD-free relapse-free survival by donor</text>
<line x1="329.80" y1="242.10" x2="329.80" y2="366.90" stroke="#000" stroke-width="1.4"/>
<line x1="329.20" y1="366.30" x2="504.60" y2="366.30" stroke="#000" stroke-width="1.45"/>
<line x1="326.70" y1="366.30" x2="329.80" y2="366.30" stroke="#111" stroke-width="1.0"/>
<line x1="326.70" y1="360.23" x2="329.80" y2="360.23" stroke="#111" stroke-width="1.0"/>
<line x1="326.70" y1="354.16" x2="329.80" y2="354.16" stroke="#111" stroke-width="1.0"/>
<line x1="326.70" y1="348.09" x2="329.80" y2="348.09" stroke="#111" stroke-width="1.0"/>
<line x1="326.70" y1="342.02" x2="329.80" y2="342.02" stroke="#111" stroke-width="1.0"/>
<line x1="326.70" y1="335.95" x2="329.80" y2="335.95" stroke="#111" stroke-width="1.0"/>
<line x1="326.70" y1="329.88" x2="329.80" y2="329.88" stroke="#111" stroke-width="1.0"/>
<line x1="326.70" y1="323.81" x2="329.80" y2="323.81" stroke="#111" stroke-width="1.0"/>
<line x1="326.70" y1="317.74" x2="329.80" y2="317.74" stroke="#111" stroke-width="1.0"/>
<line x1="326.70" y1="311.67" x2="329.80" y2="311.67" stroke="#111" stroke-width="1.0"/>
<line x1="326.70" y1="305.60" x2="329.80" y2="305.60" stroke="#111" stroke-width="1.0"/>
<line x1="326.70" y1="299.53" x2="329.80" y2="299.53" stroke="#111" stroke-width="1.0"/>
<line x1="326.70" y1="293.46" x2="329.80" y2="293.46" stroke="#111" stroke-width="1.0"/>
<line x1="326.70" y1="287.39" x2="329.80" y2="287.39" stroke="#111" stroke-width="1.0"/>
<line x1="326.70" y1="281.32" x2="329.80" y2="281.32" stroke="#111" stroke-width="1.0"/>
<line x1="326.70" y1="275.25" x2="329.80" y2="275.25" stroke="#111" stroke-width="1.0"/>
<line x1="326.70" y1="269.18" x2="329.80" y2="269.18" stroke="#111" stroke-width="1.0"/>
<line x1="326.70" y1="263.11" x2="329.80" y2="263.11" stroke="#111" stroke-width="1.0"/>
<line x1="326.70" y1="257.04" x2="329.80" y2="257.04" stroke="#111" stroke-width="1.0"/>
<line x1="326.70" y1="250.97" x2="329.80" y2="250.97" stroke="#111" stroke-width="1.0"/>
<line x1="326.70" y1="244.90" x2="329.80" y2="244.90" stroke="#111" stroke-width="1.0"/>
<text x="323.96" y="368.59" font-size="6.4" fill="#231f20" stroke="#231f20" stroke-width="0.13" text-anchor="end" textLength="3.17" lengthAdjust="spacingAndGlyphs">0</text>
<text x="323.96" y="344.31" font-size="6.4" fill="#231f20" stroke="#231f20" stroke-width="0.13" text-anchor="end" textLength="6.34" lengthAdjust="spacingAndGlyphs">20</text>
<text x="323.96" y="320.03" font-size="6.4" fill="#231f20" stroke="#231f20" stroke-width="0.13" text-anchor="end" textLength="6.34" lengthAdjust="spacingAndGlyphs">40</text>
<text x="323.96" y="295.75" font-size="6.4" fill="#231f20" stroke="#231f20" stroke-width="0.13" text-anchor="end" textLength="6.34" lengthAdjust="spacingAndGlyphs">60</text>
<text x="323.96" y="271.47" font-size="6.4" fill="#231f20" stroke="#231f20" stroke-width="0.13" text-anchor="end" textLength="6.34" lengthAdjust="spacingAndGlyphs">80</text>
<text x="323.96" y="247.19" font-size="6.4" fill="#231f20" stroke="#231f20" stroke-width="0.13" text-anchor="end" textLength="9.50" lengthAdjust="spacingAndGlyphs">100</text>
<line x1="329.80" y1="366.30" x2="329.80" y2="369.50" stroke="#111" stroke-width="1.0"/>
<text x="329.80" y="377.79" font-size="6.4" fill="#231f20" stroke="#231f20" stroke-width="0.13" text-anchor="middle" textLength="3.17" lengthAdjust="spacingAndGlyphs">0</text>
<line x1="364.18" y1="366.30" x2="364.18" y2="369.50" stroke="#111" stroke-width="1.0"/>
<text x="364.18" y="377.79" font-size="6.4" fill="#231f20" stroke="#231f20" stroke-width="0.13" text-anchor="middle" textLength="3.17" lengthAdjust="spacingAndGlyphs">1</text>
<line x1="398.56" y1="366.30" x2="398.56" y2="369.50" stroke="#111" stroke-width="1.0"/>
<text x="398.56" y="377.79" font-size="6.4" fill="#231f20" stroke="#231f20" stroke-width="0.13" text-anchor="middle" textLength="3.17" lengthAdjust="spacingAndGlyphs">2</text>
<line x1="432.94" y1="366.30" x2="432.94" y2="369.50" stroke="#111" stroke-width="1.0"/>
<text x="432.94" y="377.79" font-size="6.4" fill="#231f20" stroke="#231f20" stroke-width="0.13" text-anchor="middle" textLength="3.17" lengthAdjust="spacingAndGlyphs">3</text>
<line x1="467.32" y1="366.30" x2="467.32" y2="369.50" stroke="#111" stroke-width="1.0"/>
<text x="467.32" y="377.79" font-size="6.4" fill="#231f20" stroke="#231f20" stroke-width="0.13" text-anchor="middle" textLength="3.17" lengthAdjust="spacingAndGlyphs">4</text>
<line x1="501.70" y1="366.30" x2="501.70" y2="369.50" stroke="#111" stroke-width="1.0"/>
<text x="501.70" y="377.79" font-size="6.4" fill="#231f20" stroke="#231f20" stroke-width="0.13" text-anchor="middle" textLength="3.17" lengthAdjust="spacingAndGlyphs">5</text>
<text transform="translate(308.50,304.90) rotate(-90)" x="0" y="0" font-size="8.1" fill="#231f20" stroke="#231f20" stroke-width="0.32" text-anchor="middle" textLength="107.25" lengthAdjust="spacingAndGlyphs">Cumulative incidence (95% CI)</text>
<text x="387.18" y="389.30" font-size="8.1" fill="#231f20" stroke="#231f20" stroke-width="0.32" text-anchor="start" textLength="58.55" lengthAdjust="spacingAndGlyphs">Years after HSCT</text>
<text x="335.59" y="342.70" font-size="5.3" fill="#6aad3d" stroke="#6aad3d" stroke-width="0.11" text-anchor="start" textLength="12.72" lengthAdjust="spacingAndGlyphs">MUD:</text>
<text x="359.29" y="342.70" font-size="5.3" fill="#6aad3d" stroke="#6aad3d" stroke-width="0.11" text-anchor="start" textLength="20.52" lengthAdjust="spacingAndGlyphs" xml:space="preserve">N = 127;</text>
<text x="380.59" y="342.70" font-size="5.3" fill="#6aad3d" stroke="#6aad3d" stroke-width="0.11" text-anchor="start" textLength="14.22" lengthAdjust="spacingAndGlyphs">E = 49</text>
<text x="335.59" y="348.80" font-size="5.3" fill="#b5173e" stroke="#b5173e" stroke-width="0.11" text-anchor="start" textLength="17.32" lengthAdjust="spacingAndGlyphs">MMUD:</text>
<text x="359.29" y="348.80" font-size="5.3" fill="#b5173e" stroke="#b5173e" stroke-width="0.11" text-anchor="start" textLength="20.52" lengthAdjust="spacingAndGlyphs" xml:space="preserve">N = 118;</text>
<text x="380.59" y="348.80" font-size="5.3" fill="#b5173e" stroke="#b5173e" stroke-width="0.11" text-anchor="start" textLength="14.22" lengthAdjust="spacingAndGlyphs">E = 75</text>
<text x="335.59" y="354.70" font-size="5.3" fill="#44629b" stroke="#44629b" stroke-width="0.11" text-anchor="start" textLength="14.62" lengthAdjust="spacingAndGlyphs">Haplo:</text>
<text x="359.29" y="354.70" font-size="5.3" fill="#44629b" stroke="#44629b" stroke-width="0.11" text-anchor="start" textLength="20.52" lengthAdjust="spacingAndGlyphs" xml:space="preserve">N =  98;</text>
<text x="380.59" y="354.70" font-size="5.3" fill="#44629b" stroke="#44629b" stroke-width="0.11" text-anchor="start" textLength="14.22" lengthAdjust="spacingAndGlyphs">E = 38</text>
<text x="497.52" y="252.40" font-size="5.6" fill="#231f20" stroke="#231f20" stroke-width="0.11" text-anchor="end" textLength="33.95" lengthAdjust="spacingAndGlyphs">Overall P &lt; .001</text>
<text x="497.52" y="259.30" font-size="5.6" fill="#231f20" stroke="#231f20" stroke-width="0.11" text-anchor="end" textLength="97.35" lengthAdjust="spacingAndGlyphs">MMUD vs. MUD: HR 2.11 (1.47-3.03); P &lt; .001</text>
<text x="497.52" y="266.20" font-size="5.6" fill="#231f20" stroke="#231f20" stroke-width="0.11" text-anchor="end" textLength="95.05" lengthAdjust="spacingAndGlyphs">Haplo vs. MUD: HR 1.00 (0.66-1.53); P = .933</text>
<text x="442.98" y="288.07" font-size="5.5" fill="#6aad3d" stroke="#6aad3d" stroke-width="0.11" text-anchor="start" textLength="43.24" lengthAdjust="spacingAndGlyphs">MUD = 61% (52-69)</text>
<text x="440.78" y="303.07" font-size="5.5" fill="#44629b" stroke="#44629b" stroke-width="0.11" text-anchor="start" textLength="45.44" lengthAdjust="spacingAndGlyphs">Haplo = 58% (47-69)</text>
<text x="437.98" y="333.17" font-size="5.5" fill="#b5173e" stroke="#b5173e" stroke-width="0.11" text-anchor="start" textLength="47.64" lengthAdjust="spacingAndGlyphs">MMUD = 34% (24-43)</text>
<polyline points="329.80,244.90 331.80,244.90 331.80,246.00 333.80,246.00 333.80,247.10 335.45,247.10 335.45,248.50 337.10,248.50 337.10,249.90 338.25,249.90 338.25,251.60 339.40,251.60 339.40,253.30 340.25,253.30 340.25,255.55 341.10,255.55 341.10,257.80 341.80,257.80 341.80,259.48 342.50,259.48 342.50,261.15 343.20,261.15 343.20,262.82 343.90,262.82 343.90,264.50 345.30,264.50 345.30,266.75 346.70,266.75 346.70,269.00 347.55,269.00 347.55,270.70 348.40,270.70 348.40,272.40 348.95,272.40 348.95,274.65 349.50,274.65 349.50,276.90 350.10,276.90 350.10,278.30 350.70,278.30 350.70,279.70 352.25,279.70 352.25,281.25 353.80,281.25 353.80,282.80 355.65,282.80 355.65,283.75 357.50,283.75 357.50,284.70 359.07,284.70 359.07,285.33 360.63,285.33 360.63,285.97 362.20,285.97 362.20,286.60 363.77,286.60 363.77,286.90 365.33,286.90 365.33,287.20 366.90,287.20 366.90,287.50 368.80,287.50 368.80,288.00 370.70,288.00 370.70,288.50 372.77,288.50 372.77,288.77 374.83,288.77 374.83,289.03 376.90,289.03 376.90,289.30 378.50,289.30 378.50,289.73 380.10,289.73 380.10,290.17 381.70,290.17 381.70,290.60 383.47,290.60 383.47,290.61 385.25,290.61 385.25,290.61 387.02,290.61 387.02,290.62 388.80,290.62 388.80,290.63 390.57,290.63 390.57,290.64 392.35,290.64 392.35,290.64 394.12,290.64 394.12,290.65 395.90,290.65 395.90,290.66 397.68,290.66 397.68,290.66 399.45,290.66 399.45,290.67 401.22,290.67 401.22,290.68 403.00,290.68 403.00,290.69 404.77,290.69 404.77,290.69 406.55,290.69 406.55,290.70 408.32,290.70 408.32,290.71 410.10,290.71 410.10,290.71 411.88,290.71 411.88,290.72 413.65,290.72 413.65,290.73 415.42,290.73 415.42,290.74 417.20,290.74 417.20,290.74 418.97,290.74 418.97,290.75 420.75,290.75 420.75,290.76 422.52,290.76 422.52,290.76 424.30,290.76 424.30,290.77 426.07,290.77 426.07,290.78 427.85,290.78 427.85,290.79 429.62,290.79 429.62,290.79 431.40,290.79 431.40,290.80 431.40,292.60 501.70,292.60" fill="none" stroke="#6aad3d" stroke-width="1.35" stroke-linejoin="miter" stroke-linecap="butt"/>
<polyline points="329.80,244.90 332.10,244.90 332.10,245.40 334.30,245.40 334.30,246.50 335.15,246.50 335.15,247.90 336.00,247.90 336.00,249.30 337.15,249.30 337.15,251.30 338.30,251.30 338.30,253.30 339.40,253.30 339.40,255.25 340.50,255.25 340.50,257.20 341.65,257.20 341.65,259.20 342.80,259.20 342.80,261.20 343.53,261.20 343.53,263.07 344.27,263.07 344.27,264.93 345.00,264.93 345.00,266.80 345.77,266.80 345.77,268.50 346.53,268.50 346.53,270.20 347.30,270.20 347.30,271.90 348.15,271.90 348.15,273.85 349.00,273.85 349.00,275.80 349.50,275.80 349.50,277.50 353.50,277.50 354.05,277.50 354.05,278.90 354.60,278.90 354.60,280.30 356.60,280.30 356.60,282.30 358.00,282.30 358.00,283.05 359.40,283.05 359.40,283.80 361.30,283.80 361.30,284.00 363.20,284.00 363.20,284.20 365.00,284.20 365.00,286.10 366.45,286.10 366.45,286.45 367.90,286.45 367.90,286.80 369.74,286.80 369.74,286.83 371.59,286.83 371.59,286.86 373.43,286.86 373.43,286.89 375.27,286.89 375.27,286.91 377.11,286.91 377.11,286.94 378.96,286.94 378.96,286.97 380.80,286.97 380.80,287.00 381.70,287.00 381.70,288.60 392.30,288.60 393.30,288.60 393.30,289.80 395.07,289.80 395.07,289.82 396.85,289.82 396.85,289.84 398.62,289.84 398.62,289.85 400.39,289.85 400.39,289.87 402.16,289.87 402.16,289.89 403.94,289.89 403.94,289.91 405.71,289.91 405.71,289.93 407.48,289.93 407.48,289.95 409.25,289.95 409.25,289.96 411.03,289.96 411.03,289.98 412.80,289.98 412.80,290.00 414.57,290.00 414.57,290.02 416.35,290.02 416.35,290.04 418.12,290.04 418.12,290.05 419.89,290.05 419.89,290.07 421.66,290.07 421.66,290.09 423.44,290.09 423.44,290.11 425.21,290.11 425.21,290.13 426.98,290.13 426.98,290.15 428.75,290.15 428.75,290.16 430.53,290.16 430.53,290.18 432.30,290.18 432.30,290.20 432.30,292.00 481.20,292.00 481.20,296.10 501.70,296.10" fill="none" stroke="#44629b" stroke-width="1.35" stroke-linejoin="miter" stroke-linecap="butt"/>
<polyline points="329.80,244.90 331.50,244.90 331.50,247.60 332.07,247.60 332.07,249.30 332.63,249.30 332.63,251.00 333.20,251.00 333.20,252.70 333.40,252.70 333.40,254.77 333.60,254.77 333.60,256.83 333.80,256.83 333.80,258.90 334.65,258.90 334.65,260.30 335.50,260.30 335.50,261.70 337.10,261.70 337.10,262.80 338.30,262.80 338.30,263.40 338.85,263.40 338.85,264.80 339.40,264.80 339.40,266.20 339.60,266.20 339.60,268.27 339.80,268.27 339.80,270.33 340.00,270.33 340.00,272.40 340.10,272.40 340.10,274.30 340.20,274.30 340.20,276.20 340.30,276.20 340.30,278.10 340.40,278.10 340.40,280.00 340.63,280.00 340.63,281.57 340.87,281.57 340.87,283.13 341.10,283.13 341.10,284.70 341.40,284.70 341.40,286.27 341.70,286.27 341.70,287.83 342.00,287.83 342.00,289.40 342.50,289.40 342.50,291.25 343.00,291.25 343.00,293.10 344.40,293.10 344.40,295.50 346.30,295.50 346.30,297.40 347.20,297.40 347.20,299.70 347.65,299.70 347.65,301.10 348.10,301.10 348.10,302.50 349.10,302.50 349.10,304.90 351.40,304.90 351.40,306.30 353.30,306.30 353.30,308.60 355.20,308.60 355.20,310.50 356.85,310.50 356.85,310.75 358.50,310.75 358.50,311.00 360.40,311.00 360.40,311.90 366.00,311.90 367.40,311.90 367.40,312.90 368.80,312.90 368.80,313.10 370.20,313.10 370.20,313.30 371.60,313.30 371.60,314.20 373.37,314.20 373.37,314.33 375.13,314.33 375.13,314.47 376.90,314.47 376.90,314.60 392.30,314.60 393.75,314.60 393.75,315.40 395.20,315.40 395.20,316.20 396.92,316.20 396.92,316.26 398.64,316.26 398.64,316.32 400.36,316.32 400.36,316.38 402.08,316.38 402.08,316.44 403.80,316.44 403.80,316.50 404.30,316.50 404.30,317.95 404.80,317.95 404.80,319.40 423.70,319.40 423.70,320.70 446.70,320.70 446.70,322.80 451.90,322.80 451.90,325.30 502.00,325.30" fill="none" stroke="#b5173e" stroke-width="1.35" stroke-linejoin="miter" stroke-linecap="butt"/>
<text x="335.12" y="386.47" font-size="5.5" fill="#231f20" stroke="#231f20" stroke-width="0.11" text-anchor="end" textLength="58.64" lengthAdjust="spacingAndGlyphs">Number of patients at risk:</text>
<text x="335.12" y="393.17" font-size="5.5" fill="#231f20" stroke="#231f20" stroke-width="0.11" text-anchor="end" textLength="42.54" lengthAdjust="spacingAndGlyphs">(number censored)</text>
<text x="288.89" y="402.90" font-size="5.3" fill="#231f20" stroke="#231f20" stroke-width="0.11" text-anchor="start" textLength="11.12" lengthAdjust="spacingAndGlyphs">MUD</text>
<text x="330.20" y="402.90" font-size="5.3" fill="#231f20" stroke="#231f20" stroke-width="0.11" text-anchor="middle" textLength="15.03" lengthAdjust="spacingAndGlyphs">127 (0)</text>
<text x="364.58" y="402.90" font-size="5.3" fill="#231f20" stroke="#231f20" stroke-width="0.11" text-anchor="middle" textLength="12.39" lengthAdjust="spacingAndGlyphs">83 (0)</text>
<text x="398.96" y="402.90" font-size="5.3" fill="#231f20" stroke="#231f20" stroke-width="0.11" text-anchor="middle" textLength="15.03" lengthAdjust="spacingAndGlyphs">67 (12)</text>
<text x="433.34" y="402.90" font-size="5.3" fill="#231f20" stroke="#231f20" stroke-width="0.11" text-anchor="middle" textLength="15.03" lengthAdjust="spacingAndGlyphs">49 (29)</text>
<text x="467.72" y="402.90" font-size="5.3" fill="#231f20" stroke="#231f20" stroke-width="0.11" text-anchor="middle" textLength="15.03" lengthAdjust="spacingAndGlyphs">32 (46)</text>
<text x="502.10" y="402.90" font-size="5.3" fill="#231f20" stroke="#231f20" stroke-width="0.11" text-anchor="middle" textLength="14.68" lengthAdjust="spacingAndGlyphs">11 (67)</text>
<text x="288.89" y="410.80" font-size="5.3" fill="#231f20" stroke="#231f20" stroke-width="0.11" text-anchor="start" textLength="15.92" lengthAdjust="spacingAndGlyphs">MMUD</text>
<text x="330.20" y="410.80" font-size="5.3" fill="#231f20" stroke="#231f20" stroke-width="0.11" text-anchor="middle" textLength="14.68" lengthAdjust="spacingAndGlyphs">118 (0)</text>
<text x="364.58" y="410.80" font-size="5.3" fill="#231f20" stroke="#231f20" stroke-width="0.11" text-anchor="middle" textLength="12.39" lengthAdjust="spacingAndGlyphs">53 (0)</text>
<text x="398.96" y="410.80" font-size="5.3" fill="#231f20" stroke="#231f20" stroke-width="0.11" text-anchor="middle" textLength="12.39" lengthAdjust="spacingAndGlyphs">44 (4)</text>
<text x="433.34" y="410.80" font-size="5.3" fill="#231f20" stroke="#231f20" stroke-width="0.11" text-anchor="middle" textLength="15.03" lengthAdjust="spacingAndGlyphs">27 (18)</text>
<text x="467.72" y="410.80" font-size="5.3" fill="#231f20" stroke="#231f20" stroke-width="0.11" text-anchor="middle" textLength="15.03" lengthAdjust="spacingAndGlyphs">15 (28)</text>
<text x="502.10" y="410.80" font-size="5.3" fill="#231f20" stroke="#231f20" stroke-width="0.11" text-anchor="middle" textLength="12.39" lengthAdjust="spacingAndGlyphs">5 (38)</text>
<text x="288.89" y="418.10" font-size="5.3" fill="#231f20" stroke="#231f20" stroke-width="0.11" text-anchor="start" textLength="13.42" lengthAdjust="spacingAndGlyphs">Haplo</text>
<text x="330.20" y="418.10" font-size="5.3" fill="#231f20" stroke="#231f20" stroke-width="0.11" text-anchor="middle" textLength="12.39" lengthAdjust="spacingAndGlyphs">98 (0)</text>
<text x="364.58" y="418.10" font-size="5.3" fill="#231f20" stroke="#231f20" stroke-width="0.11" text-anchor="middle" textLength="12.39" lengthAdjust="spacingAndGlyphs">69 (2)</text>
<text x="398.96" y="418.10" font-size="5.3" fill="#231f20" stroke="#231f20" stroke-width="0.11" text-anchor="middle" textLength="12.39" lengthAdjust="spacingAndGlyphs">61 (5)</text>
<text x="433.34" y="418.10" font-size="5.3" fill="#231f20" stroke="#231f20" stroke-width="0.11" text-anchor="middle" textLength="15.03" lengthAdjust="spacingAndGlyphs">38 (26)</text>
<text x="467.72" y="418.10" font-size="5.3" fill="#231f20" stroke="#231f20" stroke-width="0.11" text-anchor="middle" textLength="15.03" lengthAdjust="spacingAndGlyphs">24 (37)</text>
<text x="502.10" y="418.10" font-size="5.3" fill="#231f20" stroke="#231f20" stroke-width="0.11" text-anchor="middle" textLength="12.39" lengthAdjust="spacingAndGlyphs">7 (53)</text>
<rect x="0" y="0" width="520" height="1.0" fill="#0a0a0a"/>
<rect x="0" y="0" width="1.25" height="426" fill="#1e1e1e"/>
<rect x="518.3" y="0" width="1.7" height="426" fill="#222"/>
<rect x="0" y="424.5" width="520" height="1.5" fill="#111"/>
</g>
</svg>
</body></html>
